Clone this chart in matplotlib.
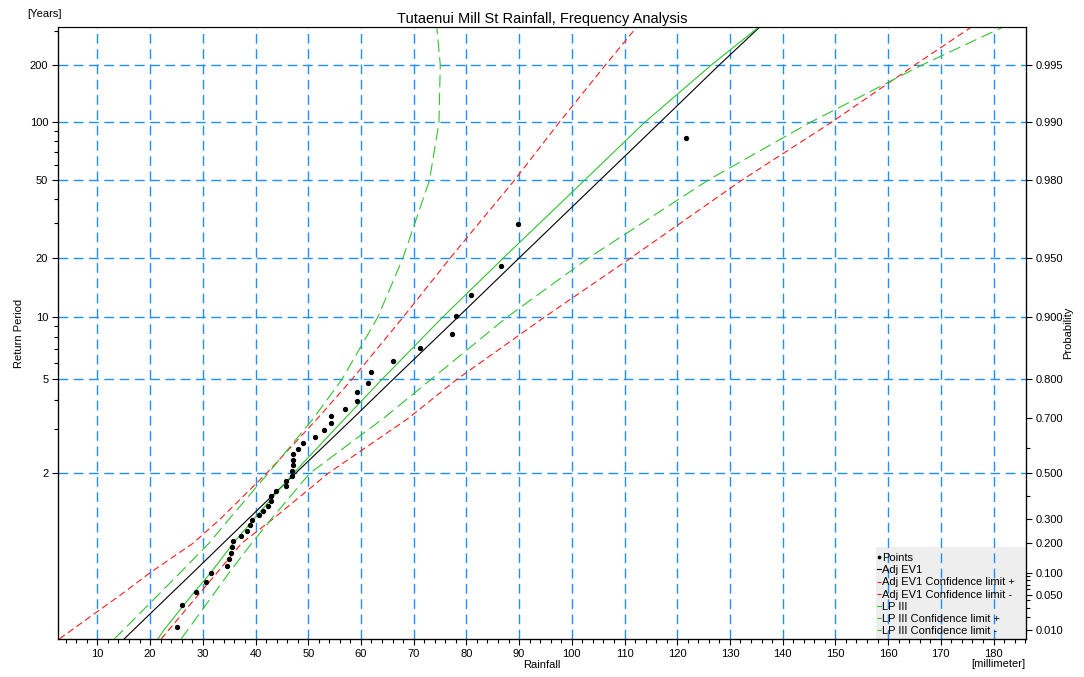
import numpy as np
import matplotlib

matplotlib.use("Agg")
import matplotlib.pyplot as plt
from matplotlib.patches import Rectangle
from matplotlib.ticker import FixedLocator, FixedFormatter, MultipleLocator, NullFormatter

plt.rcParams["font.family"] = ["Liberation Sans", "DejaVu Sans"]
plt.rcParams["font.size"] = 8

# ============================================================
# Data: observed annual maxima (mm) and their plotting probabilities
# ============================================================
rain_obs = [25.1, 26.0, 28.8, 30.65, 31.6, 34.55, 35.05, 35.4, 35.6, 35.8,
            37.3, 38.35, 38.9, 39.3, 40.75, 41.4, 42.3, 43.0, 43.0, 43.85,
            45.7, 45.8, 46.95, 47.0, 47.1, 47.2, 47.2, 48.15, 49.0, 51.2,
            52.95, 54.35, 54.35, 56.9, 59.2, 59.3, 61.4, 61.9, 66.15, 71.2,
            77.3, 78.0, 80.9, 86.5, 89.8, 121.7]
prob_obs = [0.0121, 0.0338, 0.0555, 0.0772, 0.0989, 0.1206, 0.1422, 0.1639,
            0.1856, 0.2073, 0.2290, 0.2507, 0.2723, 0.2940, 0.3157, 0.3374,
            0.3591, 0.3808, 0.4024, 0.4241, 0.4458, 0.4675, 0.4892, 0.5108,
            0.5325, 0.5542, 0.5759, 0.5976, 0.6193, 0.6409, 0.6626, 0.6843,
            0.7060, 0.7277, 0.7494, 0.7710, 0.7927, 0.8144, 0.8361, 0.8578,
            0.8794, 0.9011, 0.9228, 0.9445, 0.9662, 0.9879]

# fitted curves, rainfall read at these non-exceedance probabilities
prob_fit = [0.006, 0.01, 0.05, 0.1, 0.2, 0.3, 0.5, 0.7, 0.8, 0.9,
            0.95, 0.98, 0.99, 0.995, 0.9968]
ev1 = [15.1, 16.8, 23.8, 28.1, 33.9, 38.6, 47.6, 58.5, 66.1, 78.4,
       90.1, 105.3, 116.7, 128.0, 135.5]
ev1_plus = [22.1, 23.5, 29.2, 32.7, 37.4, 43.3, 53.8, 69.0, 78.2, 94.8,
            111.3, 132.2, 149.2, 165.1, 175.6]
ev1_minus = [2.8, 5.1, 14.5, 20.0, 28.2, 33.3, 42.1, 51.8, 58.3, 68.0,
             77.0, 89.1, 97.6, 106.4, 112.2]
lp3 = [21.5, 22.6, 28.0, 31.5, 35.8, 39.7, 47.2, 57.0, 64.0, 75.5,
       87.1, 102.4, 113.8, 126.5, 135.3]
lp3_plus = [25.9, 27.1, 32.0, 35.0, 39.3, 43.0, 50.3, 64.3, 73.3, 87.7,
            103.3, 125.8, 145.2, 166.5, 181.5]
lp3_minus = [13.2, 14.9, 21.6, 25.7, 31.2, 35.0, 42.4, 51.0, 56.4, 63.2,
             68.0, 73.0, 74.8, 75.05, 74.4]

# axis ticks
return_major = [2, 5, 10, 20, 50, 100, 200]
return_minor = [3, 4, 6, 7, 8, 9, 30, 40, 60, 70, 80, 90, 300]
prob_major = [0.01, 0.05, 0.1, 0.2, 0.3, 0.5, 0.7, 0.8, 0.9, 0.95, 0.98, 0.99, 0.995]
prob_minor = [0.02, 0.03, 0.04, 0.06, 0.07, 0.08, 0.09, 0.4, 0.6]


# ============================================================
# Gumbel probability scale
# ============================================================
def gumbel_fwd(p):
    p = np.clip(np.asarray(p, dtype=float), 1e-12, 1 - 1e-12)
    return -np.log(-np.log(p))


def gumbel_inv(y):
    return np.exp(-np.exp(-np.asarray(y, dtype=float)))


GRID_BLUE = "#1f8fff"
RED = "#ff1a1a"
GREEN = "#2ec42e"
FS = 8

fig = plt.figure(figsize=(10.84, 6.77), dpi=100)
ax = fig.add_axes([0.0535, 0.0561, 0.8927, 0.904])

ax.set_yscale("function", functions=(gumbel_fwd, gumbel_inv))
ylim = (0.00595, 0.99683)

ax.plot(ev1, prob_fit, color="black", lw=0.8, label="Adj EV1", zorder=3)
ax.plot(ev1_plus, prob_fit, color=RED, lw=0.8, dashes=(6, 3.5),
        label="Adj EV1 Confidence limit +", zorder=3)
ax.plot(ev1_minus, prob_fit, color=RED, lw=0.8, dashes=(6, 3.5),
        label="Adj EV1 Confidence limit -", zorder=3)
ax.plot(lp3, prob_fit, color=GREEN, lw=0.8, label="LP III", zorder=3)
ax.plot(lp3_plus, prob_fit, color=GREEN, lw=0.8, dashes=(11, 5),
        label="LP III Confidence limit +", zorder=3)
ax.plot(lp3_minus, prob_fit, color=GREEN, lw=0.8, dashes=(11, 5),
        label="LP III Confidence limit -", zorder=3)
ax.plot(rain_obs, prob_obs, linestyle="none", marker="o", ms=2.8,
        color="black", label="Points", zorder=4)

ax.set_xlim(2.53, 186.1)
ax.set_ylim(*ylim)

ax.xaxis.set_major_locator(MultipleLocator(10))
ax.xaxis.set_minor_locator(MultipleLocator(2))

ax.yaxis.set_major_locator(FixedLocator([1 - 1 / t for t in return_major]))
ax.yaxis.set_major_formatter(FixedFormatter([str(t) for t in return_major]))
ax.yaxis.set_minor_locator(FixedLocator([1 - 1 / t for t in return_minor]))
ax.yaxis.set_minor_formatter(NullFormatter())

ax.grid(True, which="major", color=GRID_BLUE, lw=1.0, dashes=(7, 4))
ax.set_axisbelow(True)

ax.tick_params(which="both", direction="out", width=0.8, colors="black",
               labelsize=FS, pad=2.5)
ax.tick_params(which="major", length=4.5)
ax.tick_params(which="minor", length=3)

for side in ["left", "bottom", "right"]:
    ax.spines[side].set_linewidth(0.9)
ax.spines["top"].set_color("#555555")

# right axis: probability
ax2 = ax.twinx()
ax2.set_yscale("function", functions=(gumbel_fwd, gumbel_inv))
ax2.set_ylim(*ylim)
ax2.yaxis.set_major_locator(FixedLocator(prob_major))
ax2.yaxis.set_major_formatter(FixedFormatter([f"{p:.3f}" for p in prob_major]))
ax2.yaxis.set_minor_locator(FixedLocator(prob_minor))
ax2.yaxis.set_minor_formatter(NullFormatter())
ax2.tick_params(which="both", direction="out", width=0.8, labelsize=FS, pad=2.5)
ax2.tick_params(which="major", length=4.5)
ax2.tick_params(which="minor", length=3)
ax2.set_ylabel("Probability", fontsize=FS, labelpad=0)

ax.set_ylabel("Return Period", fontsize=FS, labelpad=4)
ax.set_xlabel("Rainfall", fontsize=FS, labelpad=1)
ax.set_title("Tutaenui Mill St Rainfall, Frequency Analysis", fontsize=10.5, pad=3)
fig.text(0.025, 0.979, "[Years]", fontsize=FS, ha="left", va="center")
fig.text(0.946, 0.019, "[millimeter]", fontsize=FS, ha="right", va="center")

# legend box (grey background under the grid) and entries
ax.add_patch(Rectangle((0.845, 0.0), 0.155, 0.150, transform=ax.transAxes,
                       facecolor="#eeeeee", edgecolor="none", zorder=0.5))
handles, labels = ax.get_legend_handles_labels()
order = [6, 0, 1, 2, 3, 4, 5]
leg = ax.legend([handles[i] for i in order], [labels[i] for i in order],
                loc="upper left", bbox_to_anchor=(0.8455, 0.142),
                frameon=False, fontsize=FS, handlelength=0.3,
                handletextpad=0.15, labelspacing=0.19, borderpad=0.1,
                borderaxespad=0, markerscale=0.6)

fig.savefig("out.png", dpi=100)
